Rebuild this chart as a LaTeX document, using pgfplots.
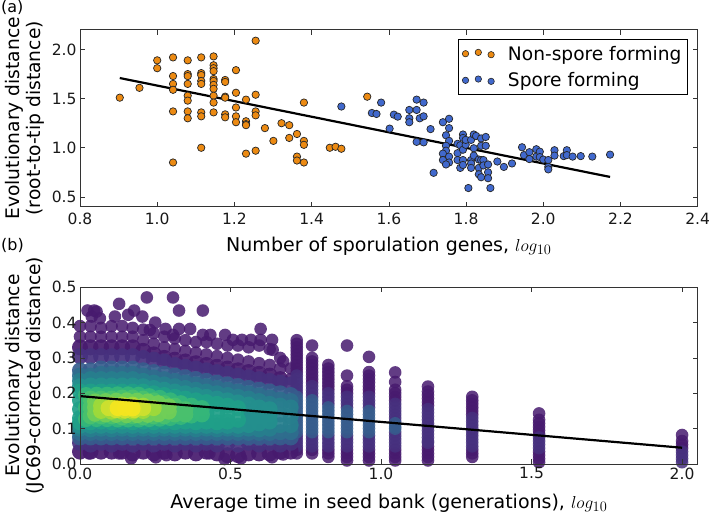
\documentclass[border=0pt]{standalone}
\usepackage{fontspec}
\setmainfont{DejaVu Sans}
\usepackage{pgfplots}
\pgfplotsset{compat=1.18}

\definecolor{orangept}{RGB}{236,138,18}
\definecolor{bluept}{RGB}{65,105,205}
\definecolor{c1}{HTML}{471A6E}
\definecolor{c2}{HTML}{46307E}
\definecolor{c3}{HTML}{365C8D}
\definecolor{c35}{HTML}{2E6E8E}
\definecolor{c4}{HTML}{277F8E}
\definecolor{c45}{HTML}{23908D}
\definecolor{c5}{HTML}{1FA088}
\definecolor{c55}{HTML}{35B779}
\definecolor{c6}{HTML}{4AC16D}
\definecolor{c65}{HTML}{71CF57}
\definecolor{c7}{HTML}{A0DA39}
\definecolor{c75}{HTML}{CFE12F}
\definecolor{c8}{HTML}{F5E61F}

\pgfplotsset{
  panel/.style={
    scale only axis, width=617.7pt, height=176.8pt,
    anchor=south west, axis line style={black!80, line width=.9pt},
    tick style={black!80, line width=.7pt}, major tick length=5pt,
    tick align=inside,
    ticklabel style={font=\fontsize{15.5}{18}\selectfont, black!90},
    xlabel style={font=\fontsize{19}{22}\selectfont},
    ylabel style={font=\fontsize{18.7}{21}\selectfont, align=center, yshift=1pt},
    /pgf/number format/.cd, fixed, fixed zerofill, precision=1, assume math mode=true,
  },
  sp/.style={only marks, mark=*, mark size=3.7pt,
    mark options={draw=black!85, line width=.7pt, fill=#1}},
  % single points, as in the columns and at the rim
  dens/.style={only marks, mark=*, mark size=6.3pt, forget plot,
    mark options={draw=#1, fill=#1, line width=0pt, draw opacity=0, fill opacity=.85}},
  % crowded middle of the cloud
  body/.style={only marks, mark=*, mark size=8pt, forget plot,
    mark options={draw=#1, fill=#1, line width=0pt, draw opacity=0, fill opacity=.92}},
}

\begin{document}
\begin{tikzpicture}[x=1pt,y=1pt]
\path[use as bounding box] (0,0) rectangle (709,513);
\node[anchor=west, inner sep=1pt, font=\fontsize{16}{19}\selectfont] at (0,506) {(a)};
\node[anchor=west, inner sep=1pt, font=\fontsize{16}{19}\selectfont] at (0,268) {(b)};

\begin{axis}[panel, at={(80pt,306.3pt)},
  xmin=0.8, xmax=2.4, ymin=0.4, ymax=2.2,
  xtick={0.8,1.0,...,2.4}, ytick={0.5,1.0,1.5,2.0},
  xticklabel style={yshift=-3pt},
  xlabel style={yshift=-5pt},
  xlabel={Number of sporulation genes, $log_{10}$},
  ylabel={Evolutionary distance\\(root-to-tip distance)},
  legend style={at={(0.984,0.946)}, anchor=north east, draw=black, line width=.9pt,
    font=\fontsize{18.6}{22}\selectfont, cells={anchor=west}, row sep=7pt,
    inner xsep=4pt, inner ysep=4pt},
]
\addplot[sp=orangept, legend image code/.code={
    \draw[black!85, fill=orangept, line width=.6pt] (0pt,0pt) circle (3.2pt)
      (12.8pt,1.3pt) circle (3.2pt) (25.6pt,-1pt) circle (3.2pt);
    \path (40pt,0pt);
  }] coordinates {
  (0.903,1.51) (0.954,1.61)
  (1.000,1.89) (1.000,1.81)
  (1.041,1.92) (1.041,1.73) (1.041,1.65) (1.041,1.59) (1.041,1.37) (1.041,0.85)
  (1.079,1.89) (1.079,1.75) (1.079,1.73) (1.079,1.65) (1.079,1.53) (1.079,1.48) (1.079,1.37) (1.079,1.30)
  (1.114,1.92) (1.114,1.76) (1.114,1.74) (1.114,1.68) (1.114,1.65) (1.114,1.36) (1.114,1.32) (1.114,1.00)
  (1.146,1.93) (1.146,1.84) (1.146,1.81) (1.146,1.78) (1.146,1.70) (1.146,1.68) (1.146,1.64) (1.146,1.60) (1.146,1.53) (1.146,1.46) (1.146,1.36)
  (1.176,1.69) (1.176,1.67) (1.176,1.52) (1.176,1.51) (1.176,1.34) (1.176,1.31)
  (1.204,1.79) (1.204,1.56) (1.204,1.41) (1.204,1.32) (1.204,1.26)
  (1.230,1.49) (1.230,1.27) (1.230,1.24) (1.230,1.23) (1.230,0.94)
  (1.255,2.09) (1.255,1.54) (1.255,1.37) (1.255,1.33) (1.255,0.97)
  (1.279,1.20) (1.301,1.07) (1.322,1.25) (1.342,1.23) (1.342,1.10)
  (1.362,1.14) (1.362,0.91) (1.362,0.87)
  (1.380,1.46) (1.380,1.07) (1.380,1.03) (1.380,0.85)
  (1.447,1.00) (1.462,1.01) (1.477,0.99) (1.544,1.52)
};
\addlegendentry{Non-spore forming}
\addplot[sp=bluept, legend image code/.code={
    \draw[black!85, fill=bluept, line width=.6pt] (0pt,0pt) circle (3.2pt)
      (12.8pt,1.3pt) circle (3.2pt) (25.6pt,-1pt) circle (3.2pt);
    \path (40pt,0pt);
  }] coordinates {
  (1.477,1.42) (1.556,1.354) (1.568,1.344) (1.580,1.46) (1.613,1.337) (1.623,1.317) (1.602,1.195)
  (1.653,1.385) (1.653,1.30) (1.653,1.26) (1.672,1.49) (1.672,1.385) (1.690,1.46) (1.680,1.30) (1.690,1.32)
  (1.708,1.19) (1.672,1.06) (1.690,1.055) (1.716,0.745)
  (1.740,1.26) (1.756,1.295) (1.756,1.20) (1.748,1.127) (1.756,1.07) (1.748,1.02) (1.748,0.97) (1.740,0.94)
  (1.756,0.91) (1.740,0.875) (1.756,0.85) (1.748,0.83)
  (1.778,1.04) (1.778,0.945) (1.778,0.875) (1.785,0.795) (1.792,1.135) (1.792,1.10) (1.785,1.025) (1.792,0.98)
  (1.792,0.875) (1.792,0.825) (1.799,1.03) (1.799,1.08) (1.806,0.59) (1.813,1.08) (1.813,0.875) (1.813,0.84) (1.813,0.795)
  (1.820,1.135) (1.820,0.995) (1.820,0.92) (1.826,1.12) (1.833,0.88) (1.833,0.795) (1.833,0.73)
  (1.839,1.095) (1.839,1.02) (1.839,0.875) (1.839,0.70) (1.845,0.875) (1.845,0.82) (1.851,1.11) (1.851,1.02)
  (1.857,0.83) (1.857,0.75) (1.857,0.69) (1.863,0.59)
  (1.881,0.86) (1.898,0.805) (1.919,0.84) (1.945,1.005) (1.950,0.925) (1.964,0.955) (1.964,0.885)
  (1.982,0.985) (1.982,0.91) (1.991,0.96) (1.991,0.905) (2.000,0.88) (2.013,0.875) (2.013,0.805) (2.013,0.78)
  (2.029,0.975) (2.029,0.92) (2.053,0.915) (2.061,0.975) (2.061,0.925) (2.076,0.91) (2.097,0.915) (2.127,0.91) (2.173,0.93)
};
\addlegendentry{Spore forming}
\addplot[black, line width=2.2pt, forget plot] coordinates {(0.903,1.71) (2.173,0.703)};
\end{axis}

\begin{axis}[panel, at={(80pt,49pt)}, clip mode=individual,
  xmin=0, xmax=2.052, ymin=0, ymax=0.5,
  xtick={0,0.5,1.0,1.5,2.0}, ytick={0,0.1,...,0.5},
  xlabel style={yshift=-8pt},
  xlabel={Average time in seed bank (generations), $log_{10}$},
  ylabel={Evolutionary distance\\(JC69-corrected distance)},
  axis on top,
]
% rim and columns, darkest band
\addplot[dens=c1] coordinates {
  (.025,.434) (.047,.434) (.055,.431) (.039,.417) (.066,.412) (.130,.453) (.222,.471) (.309,.471)
  (.329,.434) (.408,.434) (.180,.434) (.160,.422) (.207,.417) (.116,.417) (.250,.400) (.232,.379)
  (.284,.382) (.329,.382) (.366,.382) (.309,.365) (.408,.365) (.433,.365) (.482,.365) (.508,.351)
  (.538,.351) (.568,.351) (.600,.382) (.600,.351) (.638,.351) (.675,.290) (.640,.323)
  (.030,.030) (.130,.030) (.170,.016) (.252,.019) (.287,.025) (.480,.014) (.535,.016) (.638,.019) (.675,.027) (.430,.030)
  (0,.39) (.035,.39) (.07,.385) (.105,.39) (.14,.39) (.175,.385) (.21,.38) (.245,.37) (.28,.36) (.315,.355)
  (.35,.35) (.385,.345) (.42,.345) (.455,.34) (.49,.335) (.525,.335) (.56,.33) (.595,.335) (.63,.325) (.665,.30) (.70,.27)
  (0,.36) (.035,.36) (.07,.36) (.105,.36) (.14,.36) (.175,.36) (.21,.35) (.245,.34) (.28,.33) (.315,.325)
  (.35,.32) (.385,.315) (.42,.31) (.455,.305) (.49,.30) (.525,.295) (.56,.29) (.595,.285) (.63,.28) (.665,.27) (.70,.24)
  (.72,.35) (.72,.34) (.72,.33) (.72,.32) (.72,.31) (.72,.30) (.72,.29) (.72,.28) (.72,.27) (.72,.26) (.72,.03) (.72,.04)
  (.771,.335) (.771,.30) (.771,.29) (.771,.28) (.771,.27) (.771,.26) (.771,.25) (.771,.24) (.771,.23) (.771,.03) (.771,.04)
  (.825,.28) (.825,.27) (.825,.26) (.825,.25) (.825,.24) (.825,.23) (.825,.22) (.825,.21) (.825,.02) (.825,.03) (.825,.04)
  (.887,.335) (.887,.25) (.887,.22) (.887,.21) (.887,.20) (.887,.01) (.887,.02) (.887,.03) (.887,.04)
  (.96,.303) (.96,.26) (.96,.25) (.96,.24) (.96,.23) (.96,.22) (.96,.21) (.96,.20) (.96,.01) (.96,.02) (.96,.03) (.96,.04)
  (1.047,.259) (1.047,.232) (1.047,.21) (1.047,.20) (1.047,.19) (1.047,.18) (1.047,.01) (1.047,.02) (1.047,.03) (1.047,.04)
  (1.156,.219) (1.156,.205) (1.156,.195) (1.156,.185) (1.156,.175) (1.156,.165) (1.156,.01) (1.156,.02) (1.156,.03) (1.156,.04) (1.156,.05)
  (1.303,.19) (1.303,.18) (1.303,.17) (1.303,.16) (1.303,.15) (1.303,.14) (1.303,.02) (1.303,.03) (1.303,.04)
  (1.525,.143) (1.525,.125) (1.525,.115) (1.525,.105) (1.525,.095) (1.525,.085) (1.525,.005) (1.525,.015) (1.525,.025) (1.525,.035)
  (2.0,.082) (2.0,.065) (2.0,.055) (2.0,.045)
};
\addplot[dens=c2] coordinates {
  (.72,.25) (.72,.24) (.72,.23) (.72,.22) (.72,.21) (.72,.20) (.72,.05) (.72,.06) (.72,.07) (.72,.08)
  (.771,.22) (.771,.21) (.771,.20) (.771,.19) (.771,.05) (.771,.06) (.771,.07) (.771,.08)
  (.825,.20) (.825,.19) (.825,.18) (.825,.17) (.825,.05) (.825,.06) (.825,.07) (.825,.08)
  (.887,.19) (.887,.18) (.887,.17) (.887,.16) (.887,.05) (.887,.06) (.887,.07) (.887,.08)
  (.96,.19) (.96,.18) (.96,.17) (.96,.16) (.96,.05) (.96,.06) (.96,.07) (.96,.08)
  (1.047,.17) (1.047,.16) (1.047,.15) (1.047,.14) (1.047,.13) (1.047,.12) (1.047,.05) (1.047,.06) (1.047,.07) (1.047,.08) (1.047,.09)
  (1.156,.155) (1.156,.145) (1.156,.135) (1.156,.125) (1.156,.115) (1.156,.105) (1.156,.095) (1.156,.085) (1.156,.075) (1.156,.065) (1.156,.06)
  (1.303,.13) (1.303,.12) (1.303,.11) (1.303,.10) (1.303,.09) (1.303,.08) (1.303,.07) (1.303,.06) (1.303,.05)
  (1.525,.075) (1.525,.065) (1.525,.055) (1.525,.045)
  (2.0,.035) (2.0,.025) (2.0,.015) (2.0,.005)
};
\addplot[dens=c3] coordinates {
  (.72,.19) (.72,.18) (.72,.17) (.72,.16) (.72,.15) (.72,.14) (.72,.13) (.72,.12) (.72,.11) (.72,.10) (.72,.09)
  (.771,.18) (.771,.17) (.771,.16) (.771,.15) (.771,.14) (.771,.13) (.771,.12) (.771,.11) (.771,.10) (.771,.09)
  (.825,.16) (.825,.15) (.825,.14) (.825,.13) (.825,.12) (.825,.11) (.825,.10) (.825,.09)
  (.887,.15) (.887,.14) (.887,.13) (.887,.12) (.887,.11) (.887,.10) (.887,.09)
  (.96,.15) (.96,.14) (.96,.13) (.96,.12) (.96,.11) (.96,.10) (.96,.09)
  (1.047,.115) (1.047,.105) (1.047,.10)
};
% crowded part of the cloud, x below 0.7
\addplot[body=c1] coordinates {
  (0,.33) (.035,.33) (.07,.33) (.105,.33) (.14,.33) (.175,.33) (.21,.32) (.245,.31) (.28,.30) (.315,.295)
  (.35,.29) (.385,.285) (.42,.28) (.455,.275) (.49,.27) (.525,.265) (.56,.26) (.595,.255) (.63,.25) (.665,.24)
  (0,.035) (.035,.035) (.07,.035) (.105,.035) (.14,.035) (.175,.03) (.21,.035) (.245,.03)
  (.28,.035) (.315,.03) (.35,.035) (.385,.03) (.42,.035) (.455,.03) (.49,.025) (.525,.025)
  (.56,.03) (.595,.03) (.63,.03) (.665,.035) (.70,.035)
};
\addplot[body=c2] coordinates {
  (0,.305) (.035,.305) (.07,.305) (.105,.305) (.14,.305) (.175,.305) (.21,.30) (.245,.295) (.28,.29) (.315,.28)
  (.35,.275) (.385,.27) (.42,.265) (.455,.26) (.49,.255) (.525,.25) (.56,.245) (.595,.24) (.63,.235) (.665,.23) (.70,.225)
  (0,.06) (.035,.055) (.07,.06) (.105,.055) (.14,.06) (.175,.055) (.21,.06) (.245,.055) (.28,.06) (.315,.055)
  (.35,.06) (.385,.055) (.42,.06) (.455,.055) (.49,.06) (.525,.055) (.56,.06) (.595,.055) (.63,.06) (.665,.055) (.70,.06)
};
\addplot[body=c3] coordinates {
  (0,.265) (.035,.265) (.07,.27) (.105,.27) (.14,.27) (.175,.27) (.21,.265) (.245,.26) (.28,.255) (.315,.25)
  (.35,.245) (.385,.24) (.42,.235) (.455,.23) (.49,.225) (.525,.22) (.56,.215) (.595,.21) (.63,.205) (.665,.20) (.70,.195)
  (0,.075) (.035,.075) (.07,.075) (.105,.075) (.14,.075) (.175,.075) (.21,.075) (.245,.075) (.28,.075) (.315,.075)
  (.35,.075) (.385,.075) (.42,.075) (.455,.075) (.49,.075) (.525,.075) (.56,.075) (.595,.075) (.63,.075) (.665,.075) (.70,.075)
};
\addplot[body=c35] coordinates {
  (0,.25) (.035,.25) (.07,.255) (.105,.255) (.14,.255) (.175,.255) (.21,.25) (.245,.245) (.28,.24) (.315,.235)
  (.35,.23) (.385,.225) (.42,.22) (.455,.215) (.49,.21) (.525,.205) (.56,.20) (.595,.194) (.63,.188) (.665,.182) (.70,.178)
  (0,.088) (.035,.088) (.07,.088) (.105,.088) (.14,.088) (.175,.088) (.21,.088) (.245,.088) (.28,.088) (.315,.088)
  (.35,.088) (.385,.088) (.42,.088) (.455,.088) (.49,.088) (.525,.088) (.56,.088) (.595,.088) (.63,.088) (.665,.09) (.70,.09)
};
\addplot[body=c4] coordinates {
  (0,.235) (.035,.24) (.07,.24) (.105,.24) (.14,.24) (.175,.24) (.21,.235) (.245,.23) (.28,.225) (.315,.22)
  (.35,.215) (.385,.21) (.42,.205) (.455,.20) (.49,.195) (.525,.19) (.56,.185) (.595,.178) (.63,.17) (.665,.165) (.70,.16)
  (0,.10) (.035,.098) (.07,.10) (.105,.098) (.14,.10) (.175,.098) (.21,.10) (.245,.098) (.28,.10) (.315,.098)
  (.35,.10) (.385,.098) (.42,.10) (.455,.098) (.49,.10) (.525,.098) (.56,.10) (.595,.098) (.63,.10) (.665,.11) (.70,.11)
  (.595,.12) (.595,.15) (.63,.125) (.63,.15) (.665,.14) (.70,.135) (.56,.15) (.56,.125)
};
\addplot[body=c45] coordinates {
  (0,.22) (.035,.222) (.07,.222) (.105,.222) (.14,.222) (.175,.222) (.21,.22) (.245,.215) (.28,.21) (.315,.205)
  (.35,.20) (.385,.195) (.42,.19) (.455,.185) (.49,.18) (.525,.174) (.56,.168) (.595,.16) (.63,.155)
  (0,.108) (.035,.108) (.07,.108) (.105,.108) (.14,.108) (.175,.108) (.21,.108) (.245,.108) (.28,.108) (.315,.108)
  (.35,.108) (.385,.108) (.42,.108) (.455,.108) (.49,.108) (.525,.108) (.56,.11) (.595,.115) (.63,.12)
  (.56,.135) (.595,.135) (.63,.14)
};
\addplot[body=c5] coordinates {
  (0,.205) (.035,.205) (.07,.205) (.105,.205) (.14,.205) (.175,.205) (.21,.205) (.245,.20) (.28,.195)
  (.315,.19) (.35,.185) (.385,.18) (.42,.175) (.455,.17) (.49,.165) (.525,.158)
  (0,.18) (0,.155) (0,.13)
  (0,.118) (.035,.118) (.07,.12) (.105,.118) (.14,.12) (.175,.118) (.21,.12) (.245,.118) (.28,.12)
  (.315,.118) (.35,.12) (.385,.118) (.42,.12) (.455,.118) (.49,.12) (.525,.125)
  (.385,.15) (.42,.145) (.455,.145) (.49,.14)
};
\addplot[body=c55] coordinates {
  (.02,.195) (.055,.196) (.09,.196) (.125,.197) (.16,.197) (.195,.196) (.23,.192) (.265,.187) (.30,.18) (.335,.172) (.37,.165) (.405,.158)
  (.02,.127) (.055,.127) (.09,.127) (.125,.126) (.16,.126) (.195,.126) (.23,.127) (.265,.128) (.30,.13) (.335,.133) (.37,.137) (.405,.14)
  (.02,.16)
};
\addplot[body=c6] coordinates {
  (.035,.185) (.07,.185) (.105,.185) (.14,.188) (.175,.188) (.21,.185) (.245,.18) (.28,.172) (.315,.165) (.35,.155)
  (.035,.135) (.07,.135) (.105,.135) (.14,.132) (.175,.135) (.21,.132) (.245,.135) (.28,.135) (.315,.14) (.35,.14)
  (.035,.16) (.07,.16) (.245,.158) (.28,.155)
};
\addplot[body=c65] coordinates {
  (.05,.177) (.085,.178) (.12,.179) (.155,.18) (.19,.179) (.225,.177) (.26,.172) (.295,.163)
  (.05,.142) (.085,.14) (.12,.139) (.155,.138) (.19,.138) (.225,.139) (.26,.141) (.295,.148)
  (.05,.16)
};
\addplot[body=c7] coordinates {
  (.07,.165) (.07,.15) (.105,.168) (.105,.148) (.14,.168) (.14,.148) (.175,.168) (.175,.148) (.21,.165) (.21,.15) (.245,.158)
};
\addplot[body=c75] coordinates {
  (.095,.158) (.12,.163) (.12,.152) (.15,.164) (.15,.151) (.18,.163) (.18,.152) (.21,.158)
};
\addplot[body=c8] coordinates {
  (.125,.158) (.15,.158) (.175,.157)
};
\addplot[black, line width=2.2pt, forget plot] coordinates {(0,0.192) (2.0,0.046)};
\end{axis}
\end{tikzpicture}
\end{document}
